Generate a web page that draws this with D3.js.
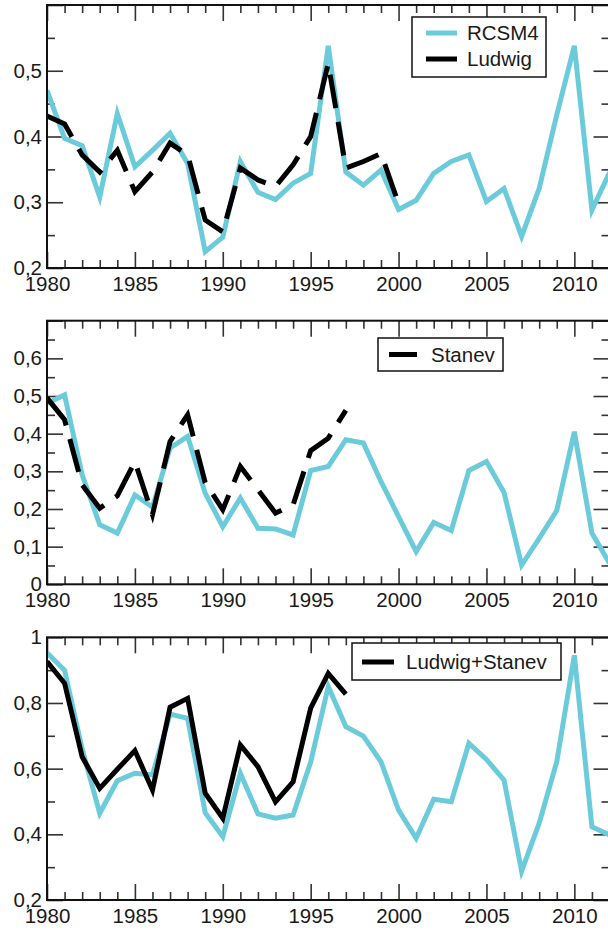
<!DOCTYPE html>
<html>
<head>
<meta charset="utf-8">
<script src="https://cdn.jsdelivr.net/npm/d3@7"></script>
<style>
  html, body { margin: 0; padding: 0; background: #fff; overflow: hidden; }
  svg { display: block; }
</style>
</head>
<body>
<svg id="chart" width="608" height="932"></svg>
<script>
// ---- data ---------------------------------------------------------
const years = [1980,1981,1982,1983,1984,1985,1986,1987,1988,1989,
               1990,1991,1992,1993,1994,1995,1996,1997,1998,1999,
               2000,2001,2002,2003,2004,2005,2006,2007,2008,2009,
               2010,2011,2012];
const xTickYears = [1980,1985,1990,1995,2000,2005,2010];

// panel 1
const rcsmTop = [0.470,0.397,0.386,0.308,0.435,0.354,0.379,0.405,0.359,0.225,
                 0.247,0.362,0.315,0.304,0.329,0.344,0.538,0.346,0.326,0.349,
                 0.289,0.303,0.344,0.362,0.372,0.301,0.321,0.248,0.321,0.433,
                 0.538,0.288,0.345];
const ludwig  = [0.431,0.419,0.372,0.346,0.379,0.316,0.346,0.390,0.372,0.273,
                 0.255,0.352,0.334,0.324,0.357,0.400,0.511,0.352,0.362,0.374,
                 0.298];
// panel 2
const rcsmMid = [0.481,0.503,0.291,0.158,0.136,0.237,0.205,0.362,0.393,0.242,
                 0.153,0.229,0.149,0.147,0.131,0.302,0.313,0.384,0.375,0.273,
                 0.180,0.087,0.164,0.143,0.302,0.326,0.244,0.051,0.122,0.196,
                 0.405,0.136,0.056];
const stanev  = [0.495,0.437,0.264,0.202,0.235,0.326,0.185,0.379,0.450,0.270,
                 0.198,0.313,0.251,0.189,0.211,0.355,0.388,0.462];
// panel 3
const rcsmBot = [0.953,0.900,0.660,0.464,0.563,0.586,0.581,0.766,0.753,0.466,
                 0.393,0.586,0.462,0.449,0.459,0.620,0.850,0.728,0.699,0.621,
                 0.474,0.388,0.507,0.499,0.677,0.628,0.565,0.288,0.434,0.621,
                 0.945,0.423,0.398];
const ludStan = [0.926,0.860,0.636,0.540,0.598,0.655,0.535,0.787,0.814,0.525,
                 0.449,0.672,0.606,0.499,0.560,0.784,0.890,0.827];

// y ticks per panel
const yMajor1 = [0.2,0.3,0.4,0.5,0.6], yMinor1 = [0.25,0.35,0.45,0.55];
const yLab1   = [0.2,0.3,0.4,0.5];
const yMajor2 = [0,0.1,0.2,0.3,0.4,0.5,0.6,0.7], yMinor2 = [0.05,0.15,0.25,0.35,0.45,0.55,0.65];
const yLab2   = [0,0.1,0.2,0.3,0.4,0.5,0.6];
const yMajor3 = [0.2,0.4,0.6,0.8,1.0], yMinor3 = [0.3,0.5,0.7,0.9];
const yLab3   = [0.2,0.4,0.6,0.8,1.0];

// ---- styling ------------------------------------------------------
const CYAN  = "#6ccbdb";
const FONT  = "'Liberation Sans', Arial, Helvetica, sans-serif";
const DASH  = "34,14";
const LW    = 5;

const svg = d3.select("#chart");
svg.append("rect").attr("width",608).attr("height",932).attr("fill","#fff");

const x = d3.scaleLinear().domain([1980, 2012]).range([47, 609.5]);
const minorYears = years.filter(y => !xTickYears.includes(y));

const fmtY = v => v === 0 ? "0" : v === 1 ? "1" : d3.format(".1f")(v).replace(".", ",");

function panel({top, bottom, yDomain, major, minor, labels, series, legend}) {
  const y = d3.scaleLinear().domain(yDomain).range([bottom, top]);
  const g = svg.append("g");

  // ticks (all pointing inwards)
  function ticks(axisFn, vals, size, translate) {
    const a = g.append("g").attr("transform", translate)
      .call(axisFn.tickValues(vals).tickSize(-size).tickSizeOuter(0).tickFormat(""));
    a.select(".domain").remove();
    a.selectAll("line").attr("stroke","#333").attr("stroke-width",1.6);
  }
  const [xl, xr] = x.range();
  ticks(d3.axisBottom(x), xTickYears, 16, `translate(0,${bottom})`);
  ticks(d3.axisBottom(x), minorYears, 8,  `translate(0,${bottom})`);
  ticks(d3.axisTop(x),    xTickYears, 16, `translate(0,${top})`);
  ticks(d3.axisTop(x),    minorYears, 8,  `translate(0,${top})`);
  ticks(d3.axisLeft(y),   major, 16, `translate(${xl},0)`);
  ticks(d3.axisLeft(y),   minor, 8,  `translate(${xl},0)`);
  ticks(d3.axisRight(y),  major, 16, `translate(${xr},0)`);
  ticks(d3.axisRight(y),  minor, 8,  `translate(${xr},0)`);

  // labels
  const yl = g.append("g").attr("transform", `translate(${xl},0)`)
    .call(d3.axisLeft(y).tickValues(labels).tickSize(0).tickPadding(5).tickFormat(fmtY));
  yl.select(".domain").remove();
  yl.selectAll("text").attr("font-family",FONT).attr("font-size",20.5).attr("fill","#1a1a1a");

  const xlab = g.append("g").attr("transform", `translate(0,${bottom})`)
    .call(d3.axisBottom(x).tickValues(xTickYears).tickSize(0).tickPadding(8).tickFormat(d3.format("d")));
  xlab.select(".domain").remove();
  xlab.selectAll("text").attr("font-family",FONT).attr("font-size",20.5).attr("fill","#1a1a1a");

  // series
  const clipId = `clip-${top|0}`;
  g.append("clipPath").attr("id", clipId)
    .append("rect").attr("x", xl).attr("y", top).attr("width", xr - xl).attr("height", bottom - top);
  const lines = g.append("g").attr("clip-path", `url(#${clipId})`);
  for (const s of series) {
    const pts = s.values.map((v, i) => [years[i], v]);
    lines.append("path")
      .datum(pts)
      .attr("fill","none")
      .attr("stroke", s.color)
      .attr("stroke-width", LW)
      .attr("stroke-linejoin","miter")
      .attr("stroke-dasharray", s.dash || null)
      .attr("d", d3.line().x(d => x(d[0])).y(d => y(d[1])));
  }

  // frame
  g.append("rect")
    .attr("x", xl).attr("y", top).attr("width", xr - xl).attr("height", bottom - top)
    .attr("fill","none").attr("stroke","#111").attr("stroke-width",2);

  // legend
  const lg = g.append("g");
  lg.append("rect")
    .attr("x", legend.x).attr("y", legend.y).attr("width", legend.w).attr("height", legend.h)
    .attr("fill","#fff").attr("stroke","#111").attr("stroke-width",1.5);
  legend.items.forEach((it, i) => {
    const cy = legend.y + legend.first + i * 26;
    lg.append("line")
      .attr("x1", legend.x + legend.pad).attr("x2", legend.x + legend.pad + legend.sample)
      .attr("y1", cy).attr("y2", cy)
      .attr("stroke", it.color).attr("stroke-width", LW);
    lg.append("text")
      .attr("x", legend.x + legend.textX).attr("y", cy)
      .attr("dy","0.35em")
      .attr("font-family",FONT).attr("font-size",20.5).attr("fill","#1a1a1a")
      .text(it.label);
  });
}

panel({
  top: 5, bottom: 268, yDomain: [0.2, 0.6],
  major: yMajor1, minor: yMinor1, labels: yLab1,
  series: [
    {values: rcsmTop, color: CYAN},
    {values: ludwig, color: "#000", dash: DASH}
  ],
  legend: {x: 412, y: 17, w: 134, h: 60, first: 16, pad: 14, sample: 31, textX: 55,
           items: [{label: "RCSM4", color: CYAN}, {label: "Ludwig", color: "#000"}]}
});

panel({
  top: 320.7, bottom: 584.3, yDomain: [0, 0.7],
  major: yMajor2, minor: yMinor2, labels: yLab2,
  series: [
    {values: rcsmMid, color: CYAN},
    {values: stanev, color: "#000", dash: DASH}
  ],
  legend: {x: 378, y: 338, w: 125, h: 33, first: 16.5, pad: 11, sample: 28, textX: 53,
           items: [{label: "Stanev", color: "#000"}]}
});

panel({
  top: 637.3, bottom: 900, yDomain: [0.2, 1.0],
  major: yMajor3, minor: yMinor3, labels: yLab3,
  series: [
    {values: rcsmBot, color: CYAN},
    {values: ludStan, color: "#000"}
  ],
  legend: {x: 352, y: 643, w: 209, h: 37, first: 19, pad: 10, sample: 32, textX: 54,
           items: [{label: "Ludwig+Stanev", color: "#000"}]}
});
</script>
</body>
</html>
